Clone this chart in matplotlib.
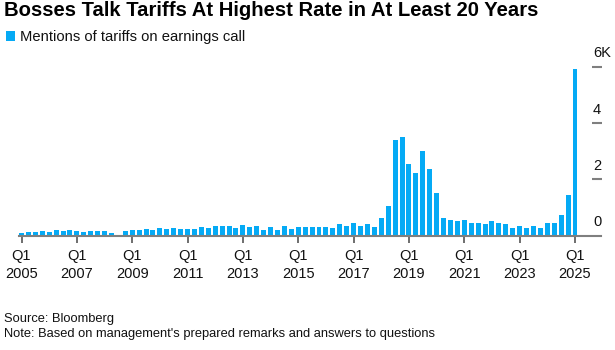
import matplotlib
matplotlib.use("Agg")
import matplotlib.pyplot as plt
import matplotlib.transforms as mtransforms
from matplotlib.patches import Rectangle
import pandas as pd

# ---- data ----
quarters = [f"Q{p.quarter} {p.year}" for p in pd.period_range("2005Q1", "2025Q1", freq="Q")]
mentions = [
    106, 140, 140, 177, 140, 212, 177, 212, 177, 140,
    177, 177, 177, 106, 35, 177, 212, 212, 248, 212,
    283, 248, 283, 248, 248, 248, 318, 283, 354, 354,
    354, 283, 389, 318, 354, 212, 318, 212, 354, 248,
    318, 318, 318, 318, 318, 283, 425, 354, 460, 354,
    425, 318, 637, 1060, 3393, 3500, 2545, 2226, 3004, 2368,
    1520, 637, 566, 530, 566, 460, 460, 425, 530, 460,
    425, 283, 354, 283, 354, 283, 460, 460, 743, 1450,
    5910,
]
xtick_years = ["2005", "2007", "2009", "2011", "2013", "2015",
               "2017", "2019", "2021", "2023", "2025"]
ytick_values = [0, 2000, 4000, 6000]
ytick_labels = ["0", "2", "4", "6K"]

title = "Bosses Talk Tariffs At Highest Rate in At Least 20 Years"
legend_label = "Mentions of tariffs on earnings call"
source = "Source: Bloomberg"
note = "Note: Based on management's prepared remarks and answers to questions"

BLUE = "#05aaf5"
FONT = "Liberation Sans"

W, H = 615, 350
fig = plt.figure(figsize=(W / 100, H / 100), dpi=100)

def fx(px):
    return px / W

def fy(py):
    return 1 - py / H

# axes: x from 19 to 601 px; baseline at 235.7, 6K at 66.7
ax = fig.add_axes([fx(19), fy(235.7), fx(601) - fx(19), fy(66.7) - fy(235.7)])
x = list(range(len(mentions)))
ax.bar(x, mentions, width=0.72, color=BLUE, linewidth=0, zorder=2)

step = (575.0 - 21.5) / 80
ax.set_xlim(-(21.5 - 19) / step, (601 - 21.5) / step)
ax.set_ylim(0, 6000)

for s in ["top", "right", "left"]:
    ax.spines[s].set_visible(False)
ax.spines["bottom"].set_color("#7f7f7f")
ax.spines["bottom"].set_linewidth(1.5)
ax.spines["bottom"].set_zorder(3)

# x ticks every 8 quarters
tick_pos = [i for i, q in enumerate(quarters) if q.startswith("Q1") and int(q[-4:]) in [int(y) for y in xtick_years]]
ax.set_xticks(tick_pos)
ax.set_xticklabels([])
ax.tick_params(axis="x", length=5, width=1.2, color="#555555", direction="out")
ax.set_yticks([])

trans_x = mtransforms.blended_transform_factory(ax.transData, fig.transFigure)
for pos, yr in zip(tick_pos, xtick_years):
    ax.text(pos, fy(260), "Q1", transform=trans_x, ha="center", va="baseline",
            fontsize=10.5, family=FONT, color="#111111")
    ax.text(pos, fy(277.5), yr, transform=trans_x, ha="center", va="baseline",
            fontsize=10.5, family=FONT, color="#111111")

# y ticks on the right: short lines with labels above
trans_y = mtransforms.blended_transform_factory(fig.transFigure, ax.transData)
for v, lab in zip(ytick_values, ytick_labels):
    if v != 0:
        ax.plot([fx(592), fx(602)], [v, v], transform=trans_y, color="#7f7f7f",
                linewidth=1.5, clip_on=False, solid_capstyle="butt")
    off = 9.3 * 6000 / 169.0
    ax.text(fx(593), v + off, lab, transform=trans_y, ha="left", va="baseline",
            fontsize=10.5, family=FONT, color="#111111")

# title and legend
fig.text(fx(4), fy(16.5), title, ha="left", va="baseline", fontsize=14.6,
         fontweight="bold", family=FONT, color="#000000")
fig.patches.append(Rectangle((fx(6), fy(40.5)), fx(9), fy(31) - fy(40.5),
                             transform=fig.transFigure, facecolor=BLUE,
                             edgecolor="none"))
fig.text(fx(20.5), fy(40.5), legend_label, ha="left", va="baseline",
         fontsize=10.6, family=FONT, color="#111111")

# footer
fig.text(fx(4), fy(322.3), source, ha="left", va="baseline", fontsize=9.3,
         family=FONT, color="#111111")
fig.text(fx(4), fy(337), note, ha="left", va="baseline", fontsize=9.3,
         family=FONT, color="#111111")

fig.savefig("out.png", dpi=100)
